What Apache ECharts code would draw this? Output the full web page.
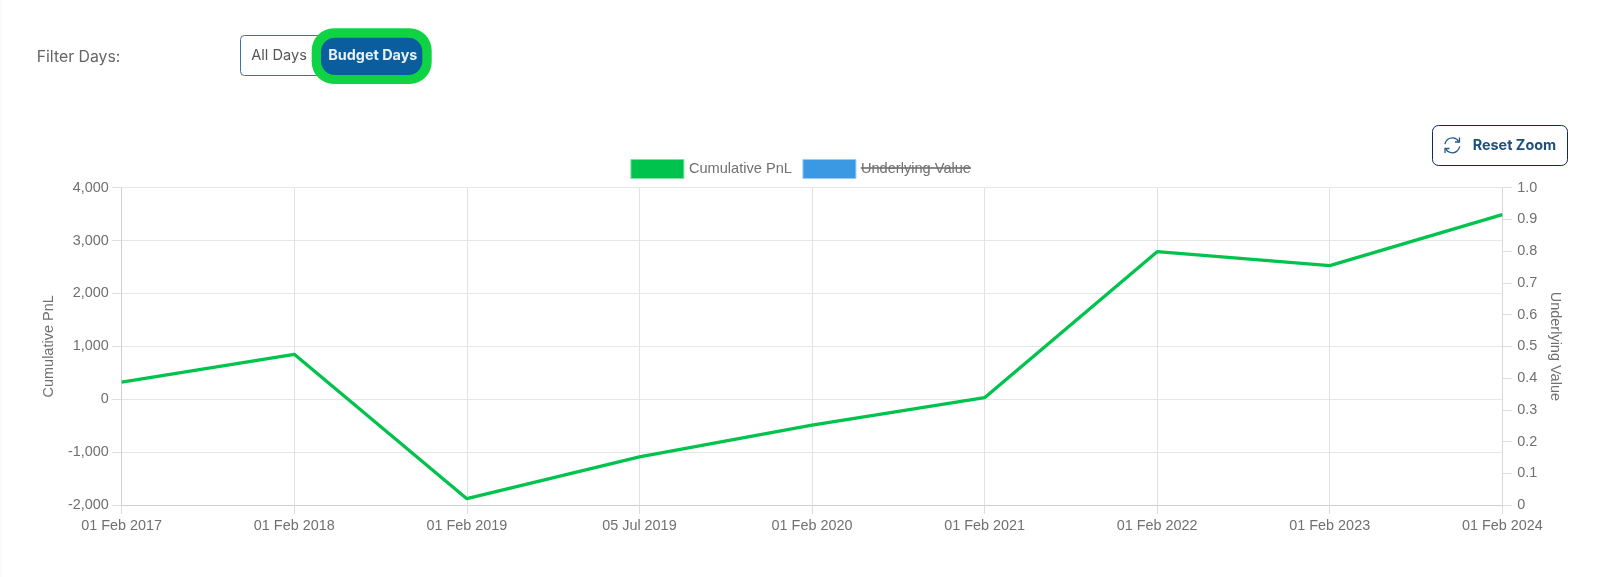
<!DOCTYPE html>
<html>
<head>
<meta charset="utf-8">
<script src="https://cdn.jsdelivr.net/npm/echarts@6/dist/echarts.min.js"></script>
<style>html,body{margin:0;padding:0;background:#fff}#c{width:1600px;height:577px}</style>
</head>
<body>
<div id="c"></div>
<script>
const categories = ['01 Feb 2017','01 Feb 2018','01 Feb 2019','05 Jul 2019','01 Feb 2020','01 Feb 2021','01 Feb 2022','01 Feb 2023','01 Feb 2024'];
const cumulativePnL = [325, 850, -1880, -1090, -490, 30, 2790, 2525, 3490];
const underlyingValue = [];
const gray = '#707070';
const ui = 'Inter, "Noto Sans", sans-serif';
const arial = '"Liberation Sans", Arial, sans-serif';
const iconStroke = {fill:'none',stroke:'#2a5a88',lineWidth:1.3};
const chart = echarts.init(document.getElementById('c'), null, {renderer:'canvas'});
chart.setOption({
  animation:false,
  backgroundColor:'#fff',
  textStyle:{fontFamily:arial},
  legend:{
    left:625.4, top:154, itemWidth:53, itemHeight:19, itemGap:10.5, icon:'rect',
    selectedMode:false,
    textStyle:{color:gray,fontSize:14.6,fontFamily:arial},
    data:[
      {name:'Cumulative PnL',itemStyle:{color:'#00c34d',borderColor:'#7fe0a5',borderWidth:1}},
      {name:'Underlying Value',itemStyle:{color:'#3a99e2',borderColor:'#9ccbf0',borderWidth:1}}
    ]
  },
  grid:{left:121.7,right:97.7,top:187.7,bottom:72},
  xAxis:{
    type:'category',data:categories,boundaryGap:false,
    axisLine:{lineStyle:{color:'#cfcfcf'},onZero:false},
    axisTick:{show:true,length:9,alignWithLabel:true,lineStyle:{color:'#dcdcdc'}},
    axisLabel:{interval:0,color:gray,fontSize:14.4,margin:14,fontFamily:arial},
    splitLine:{show:true,interval:0,lineStyle:{color:'#e2e2e2'}}
  },
  yAxis:[
    {type:'value',min:-2000,max:4000,interval:1000,position:'left',
     name:'Cumulative PnL',nameLocation:'middle',nameGap:65.5,nameRotate:90,nameMoveOverlap:false,
     nameTextStyle:{color:gray,fontSize:14.5,fontFamily:arial},
     axisLine:{show:true,lineStyle:{color:'#cfcfcf'}},
     axisTick:{show:true,length:9.4,lineStyle:{color:'#dcdcdc'}},
     axisLabel:{color:gray,fontSize:14.4,margin:13,fontFamily:arial},
     splitLine:{show:true,lineStyle:{color:'#e6e6e6'}}},
    {type:'value',min:0,max:1,interval:0.1,position:'right',
     name:'Underlying Value',nameLocation:'middle',nameGap:45,nameRotate:-90,nameMoveOverlap:false,
     nameTextStyle:{color:gray,fontSize:14.5,fontFamily:arial},
     axisLine:{show:true,lineStyle:{color:'#d8d8d8'}},
     axisTick:{show:true,length:9.4,lineStyle:{color:'#dcdcdc'}},
     axisLabel:{color:gray,fontSize:14.4,margin:15,fontFamily:arial,
       formatter:v=>v===0?'0':v.toFixed(1)},
     splitLine:{show:false}}
  ],
  series:[
    {name:'Cumulative PnL',type:'line',yAxisIndex:0,data:cumulativePnL,symbol:'none',smooth:false,
     lineStyle:{color:'#00c34d',width:3.3},itemStyle:{color:'#00c34d'},z:5},
    {name:'Underlying Value',type:'line',yAxisIndex:1,data:underlyingValue,symbol:'none',
     itemStyle:{color:'#3a99e2'},lineStyle:{color:'#3a99e2'}}
  ],
  graphic:[
    {type:'rect',shape:{x:0,y:0,width:2,height:577},style:{fill:'#fafafa'}},
    {type:'text',x:36.7,y:57,style:{text:'Filter Days:',fill:'#666',font:'15.8px '+ui,verticalAlign:'middle'}},
    {type:'rect',shape:{x:240.5,y:35.5,width:90,height:40,r:4},style:{fill:'#fff',stroke:'#3b74ad',lineWidth:1}},
    {type:'text',x:251.2,y:56,style:{text:'All Days',fill:'#555',font:'14.6px '+ui,verticalAlign:'middle'}},
    {type:'rect',shape:{x:311.7,y:28.3,width:120,height:55.7,r:22},style:{fill:'#0fd345'}},
    {type:'rect',shape:{x:321,y:37.7,width:101.3,height:37.3,r:14},style:{fill:'#0a5e9e'}},
    {type:'text',x:328.3,y:55.5,style:{text:'Budget Days',fill:'#e8f1f8',font:'bold 14.4px '+ui,verticalAlign:'middle'}},
    {type:'rect',shape:{x:1432.5,y:125.5,width:135,height:40,r:6},style:{fill:'#fff',stroke:'#0b2a6a',lineWidth:1}},
    {type:'arc',shape:{cx:1452.3,cy:145.3,r:7.5,startAngle:Math.PI*1.05,endAngle:Math.PI*1.85,clockwise:true},style:iconStroke},
    {type:'arc',shape:{cx:1452.3,cy:145.3,r:7.5,startAngle:Math.PI*0.05,endAngle:Math.PI*0.85,clockwise:true},style:iconStroke},
    {type:'polyline',shape:{points:[[1459.5,137.5],[1459.5,142],[1455,142]]},style:iconStroke},
    {type:'polyline',shape:{points:[[1445,153],[1445,148.5],[1449.5,148.5]]},style:iconStroke},
    {type:'text',x:1472.7,y:146,style:{text:'Reset Zoom',fill:'#1c4f7c',font:'bold 14.4px '+ui,verticalAlign:'middle'}},
    {type:'line',shape:{x1:860.7,y1:168,x2:971,y2:168},style:{stroke:'#666',lineWidth:1.5}}
  ]
});
</script>
</body>
</html>
